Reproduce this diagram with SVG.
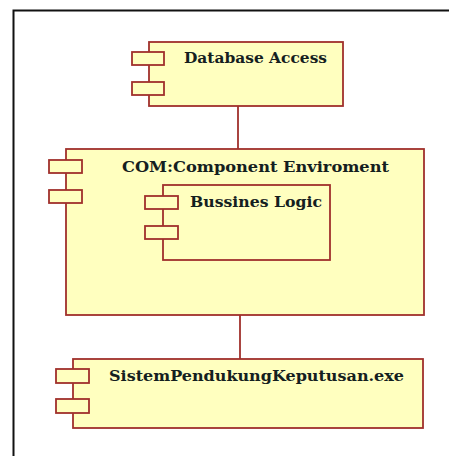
<svg xmlns="http://www.w3.org/2000/svg" width="449" height="456" viewBox="0 0 449 456">
<style>
.body{fill:#ffffbf;stroke:#a0302c;stroke-width:1.8}
.tab{fill:#ffffbf;stroke:#a0302c;stroke-width:1.8}
.lbl{font-family:"DejaVu Serif","Liberation Serif",serif;font-weight:bold;font-size:14.5px;fill:#142020}
.conn{stroke:#a0302c;stroke-width:1.8;fill:none}
.frame{stroke:#111;stroke-width:2;fill:none}
</style>
<rect width="449" height="456" fill="#fff"/>
<path class="frame" d="M13.5,456 V10.5 H449"/>
<g id="connectors">
<line class="conn" x1="238" y1="106" x2="238" y2="149"/>
<line class="conn" x1="240" y1="315" x2="240" y2="359"/>
</g>
<g id="database-access">
<rect class="body" x="149" y="42" width="194" height="64"/>
<rect class="tab" x="132" y="52" width="32" height="13"/>
<rect class="tab" x="132" y="82" width="32" height="13"/>
<text class="lbl" x="184" y="63" textLength="143" lengthAdjust="spacingAndGlyphs">Database Access</text>
</g>
<g id="com-component-environment">
<rect class="body" x="66" y="149" width="358" height="166"/>
<rect class="tab" x="49" y="160" width="33" height="13"/>
<rect class="tab" x="49" y="190" width="33" height="13"/>
<text class="lbl" x="122" y="172" textLength="267" lengthAdjust="spacingAndGlyphs">COM:Component Enviroment</text>
</g>
<g id="bussines-logic">
<rect class="body" x="163" y="185" width="167" height="75"/>
<rect class="tab" x="145" y="196" width="33" height="13"/>
<rect class="tab" x="145" y="226" width="33" height="13"/>
<text class="lbl" x="190" y="207" textLength="132" lengthAdjust="spacingAndGlyphs">Bussines Logic</text>
</g>
<g id="sistem-pendukung-keputusan">
<rect class="body" x="73" y="359" width="350" height="69"/>
<rect class="tab" x="56" y="369" width="33" height="14"/>
<rect class="tab" x="56" y="399" width="33" height="14"/>
<text class="lbl" x="109" y="381" textLength="295" lengthAdjust="spacingAndGlyphs">SistemPendukungKeputusan.exe</text>
</g>
</svg>
